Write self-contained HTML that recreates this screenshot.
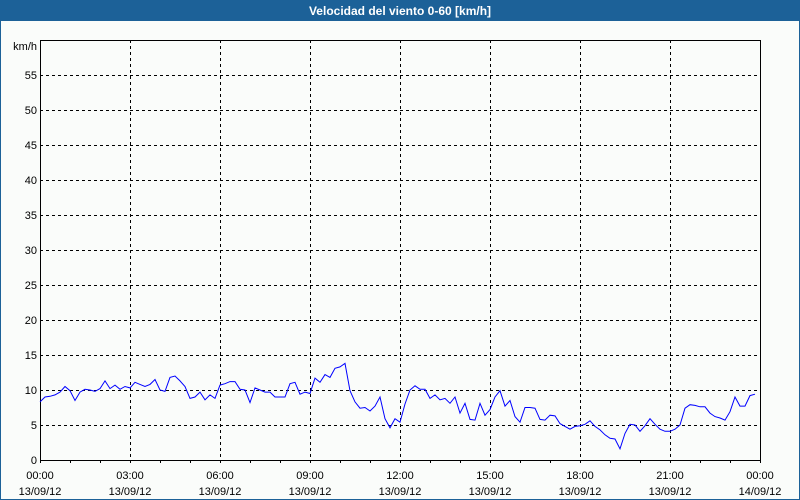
<!DOCTYPE html>
<html><head><meta charset="utf-8"><style>
body{margin:0;background:#fff}
svg{display:block;font-family:"Liberation Sans",sans-serif}
</style></head><body>
<svg width="800" height="500">
<rect x="0" y="0" width="800" height="500" fill="#fafcfa" stroke="#1c6198" stroke-width="2"/>
<rect x="0" y="0" width="800" height="21" fill="#1c6198"/>
<text x="400" y="15" text-anchor="middle" fill="#fff" font-size="12" font-weight="bold">Velocidad del viento 0-60 [km/h]</text>
<text x="37" y="50" text-anchor="end" font-size="11">km/h</text>
<g id="grid"></g>
<g id="axes"></g>
<polyline id="line" fill="none" stroke="#0000ff" stroke-width="1"/>
</svg>
<script>
const yTicks=[0,5,10,15,20,25,30,35,40,45,50,55];
const xTickTimes=["00:00","03:00","06:00","09:00","12:00","15:00","18:00","21:00","00:00"];
const xTickDates=["13/09/12","13/09/12","13/09/12","13/09/12","13/09/12","13/09/12","13/09/12","13/09/12","14/09/12"];
const windSpeed=[8.3,9.0,9.1,9.3,9.7,10.5,9.9,8.5,9.7,10.1,10,9.8,10.2,11.3,10.2,10.7,10.1,10.5,10.3,11.1,10.8,10.5,10.8,11.5,10,9.8,11.8,12,11.3,10.5,8.8,9,9.7,8.6,9.3,8.8,10.7,10.9,11.2,11.2,10.1,10,8.2,10.3,10,9.7,9.7,9,9,9,10.9,11.1,9.4,9.7,9.5,11.7,11.1,12.2,11.8,13.1,13.3,13.8,9.9,8.3,7.4,7.5,7,7.7,9,5.9,4.6,5.9,5.4,8,
10,10.6,10.1,10.1,8.8,9.3,8.6,8.8,8.1,9,6.7,8.1,5.8,5.7,8.1,6.4,7.2,9,9.9,7.7,8.5,6.2,5.4,7.5,7.5,7.4,5.8,5.7,6.4,6.3,5.2,4.8,4.4,4.8,4.9,5.1,5.6,4.8,4.3,3.6,3.1,3,1.6,3.8,5.1,5,4.1,4.9,5.9,5.1,4.4,4.1,4.1,4.4,5,7.4,7.9,7.8,7.6,7.6,6.7,6.2,6,5.7,6.9,9,7.7,7.7,9.2,9.4];
const X0=40,X1=760,Y0=460,Y1=40,YMAX=60,HOURS=24,STEP_MIN=10;
const ns="http://www.w3.org/2000/svg";
const xs=h=>X0+(X1-X0)*h/HOURS;
const ys=v=>Y0-(Y0-Y1)*v/YMAX;
const grid=document.getElementById('grid'),axes=document.getElementById('axes');
function mk(tag,attrs,parent){const e=document.createElementNS(ns,tag);for(const k in attrs)e.setAttribute(k,attrs[k]);parent.appendChild(e);return e;}
yTicks.forEach(v=>{
 if(v>0){const l=mk('line',{x1:X0,x2:X1,y1:ys(v)+.5,y2:ys(v)+.5,stroke:'#000','stroke-dasharray':'3,3'},grid);
 
 }
 const t=mk('text',{x:37,y:ys(v)+4,'text-anchor':'end','font-size':11},axes);t.textContent=v;
 
 
});
xTickTimes.forEach((s,i)=>{
 const x=xs(i*3);
 if(i>0&&i<xTickTimes.length-1){const l=mk('line',{x1:x+.5,x2:x+.5,y1:Y1,y2:Y0,stroke:'#000','stroke-dasharray':'3,3'},grid);
 
 }
 const t=mk('text',{x:x,y:479,'text-anchor':'middle','font-size':11},axes);t.textContent=s;
 
 
 const d=mk('text',{x:x,y:495,'text-anchor':'middle','font-size':11},axes);d.textContent=xTickDates[i];
 
 
});
for(let h=0;h<=HOURS;h++){const l=mk('line',{x1:xs(h)+.5,x2:xs(h)+.5,y1:Y0,y2:Y0+3,stroke:'#000'},axes);
 
 }
const box=mk('rect',{x:X0+.5,y:Y1+.5,width:X1-X0,height:Y0-Y1,fill:'none',stroke:'#000'},axes);


document.getElementById('line').setAttribute('points',windSpeed.map((v,i)=>xs(i*STEP_MIN/60)+','+ys(v)).join(' '));
</script>
</body></html>
